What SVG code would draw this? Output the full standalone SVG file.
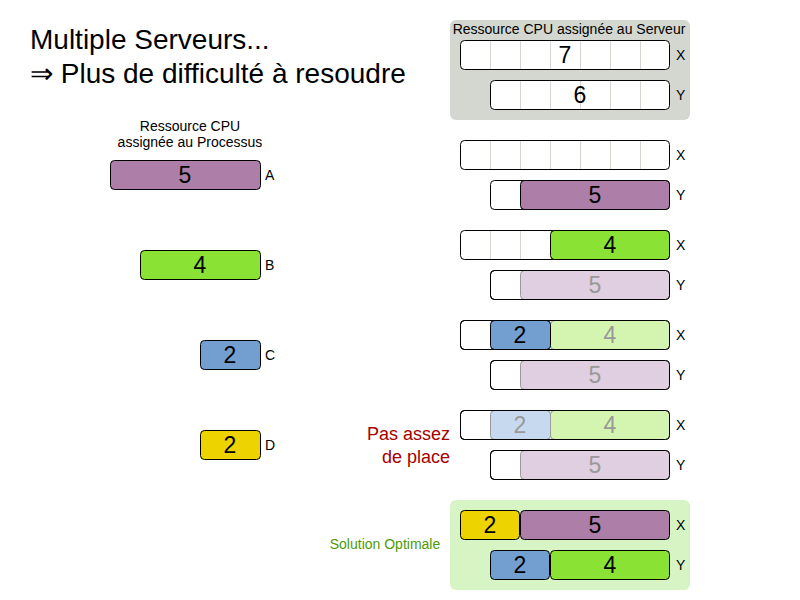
<svg xmlns="http://www.w3.org/2000/svg" width="800" height="600" viewBox="0 0 800 600">
<style>
text{font-family:"Liberation Sans",Arial,sans-serif}
.box{stroke:#000;stroke-width:1;rx:4;ry:4}
.empty{fill:#fff}
.grid{stroke:#d3d7cf;stroke-width:1}
.p{fill:#ad7fa8}.g{fill:#8ae234}.b{fill:#729fcf}.y{fill:#edd400}
.fp{fill:#e0cfe0;stroke:#999}.fg{fill:#d3f5b0;stroke:#999}.fb{fill:#c6d9ee;stroke:#999}
.num{font-size:23px;text-anchor:middle;fill:#000}
.fnum{font-size:23px;text-anchor:middle;fill:#999}
.lbl{font-size:14px;fill:#000}
.small{font-size:14px;text-anchor:middle;fill:#000}
</style>
<rect width="800" height="600" fill="#fff"/>
<g id="title">
<text x="30" y="49" font-size="28">Multiple Serveurs...</text>
<text x="30" y="83" font-size="28">⇒ Plus de difficulté à resoudre</text>
</g>
<g id="processes">
<text x="190" y="131" class="small">Ressource CPU</text>
<text x="190" y="147" class="small">assignée au Processus</text>
<g id="A"><rect class="box p" x="110.5" y="160.5" width="150" height="29"/><text class="num" x="185" y="183">5</text><text class="lbl" x="265" y="180">A</text></g>
<g id="B"><rect class="box g" x="140.5" y="250.5" width="120" height="29"/><text class="num" x="200" y="273">4</text><text class="lbl" x="265" y="270">B</text></g>
<g id="C"><rect class="box b" x="200.5" y="340.5" width="60" height="29"/><text class="num" x="230" y="363">2</text><text class="lbl" x="265" y="360">C</text></g>
<g id="D"><rect class="box y" x="200.5" y="430.5" width="60" height="29"/><text class="num" x="230" y="453">2</text><text class="lbl" x="265" y="450">D</text></g>
</g>
<g id="header">
<rect x="450" y="20" width="240" height="100" rx="6" fill="#d3d7cf"/>
<text x="569" y="34" class="small">Ressource CPU assignée au Serveur</text>
<rect class="box empty" x="460.5" y="40.5" width="209" height="29"/>
<path class="grid" d="M490.5 41v28M520.5 41v28M550.5 41v28M580.5 41v28M610.5 41v28M640.5 41v28"/>
<text class="num" x="565" y="63">7</text><text class="lbl" x="676" y="60">X</text>
<rect class="box empty" x="490.5" y="80.5" width="179" height="29"/>
<path class="grid" d="M520.5 81v28M550.5 81v28M580.5 81v28M610.5 81v28M640.5 81v28"/>
<text class="num" x="580" y="103">6</text><text class="lbl" x="676" y="100">Y</text>
</g>
<g id="step1">
<rect class="box empty" x="460.5" y="140.5" width="209" height="29"/>
<path class="grid" d="M490.5 141v28M520.5 141v28M550.5 141v28M580.5 141v28M610.5 141v28M640.5 141v28"/>
<text class="lbl" x="676" y="160">X</text>
<rect class="box empty" x="490.5" y="180.5" width="179" height="29"/>
<rect class="box p" x="520.5" y="180.5" width="149" height="29"/>
<text class="num" x="595" y="203">5</text><text class="lbl" x="676" y="200">Y</text>
</g>
<g id="step2">
<rect class="box empty" x="460.5" y="230.5" width="209" height="29"/>
<path class="grid" d="M490.5 231v28M520.5 231v28"/>
<rect class="box g" x="550.5" y="230.5" width="119" height="29"/>
<text class="num" x="610" y="253">4</text><text class="lbl" x="676" y="250">X</text>
<rect class="box empty" x="490.5" y="270.5" width="179" height="29"/>
<rect class="box fp" x="520.5" y="270.5" width="149" height="29"/>
<rect x="490.5" y="270.5" width="179" height="29" rx="4" fill="none" stroke="#000"/>
<text class="fnum" x="595" y="293">5</text><text class="lbl" x="676" y="290">Y</text>
</g>
<g id="step3">
<rect class="box empty" x="460.5" y="320.5" width="209" height="29"/>
<rect class="box fg" x="550.5" y="320.5" width="119" height="29"/>
<rect class="box b" x="490.5" y="320.5" width="60" height="29"/>
<rect x="460.5" y="320.5" width="209" height="29" rx="4" fill="none" stroke="#000"/>
<text class="num" x="520" y="343">2</text><text class="fnum" x="610" y="343">4</text><text class="lbl" x="676" y="340">X</text>
<rect class="box empty" x="490.5" y="360.5" width="179" height="29"/>
<rect class="box fp" x="520.5" y="360.5" width="149" height="29"/>
<rect x="490.5" y="360.5" width="179" height="29" rx="4" fill="none" stroke="#000"/>
<text class="fnum" x="595" y="383">5</text><text class="lbl" x="676" y="380">Y</text>
</g>
<g id="step4">
<text x="450" y="440" font-size="18" fill="#a40000" text-anchor="end">Pas assez</text>
<text x="450" y="463" font-size="18" fill="#a40000" text-anchor="end">de place</text>
<rect class="box empty" x="460.5" y="410.5" width="209" height="29"/>
<rect class="box fb" x="490.5" y="410.5" width="60" height="29"/>
<rect class="box fg" x="550.5" y="410.5" width="119" height="29"/>
<rect x="460.5" y="410.5" width="209" height="29" rx="4" fill="none" stroke="#000"/>
<text class="fnum" x="520" y="433">2</text><text class="fnum" x="610" y="433">4</text><text class="lbl" x="676" y="430">X</text>
<rect class="box empty" x="490.5" y="450.5" width="179" height="29"/>
<rect class="box fp" x="520.5" y="450.5" width="149" height="29"/>
<rect x="490.5" y="450.5" width="179" height="29" rx="4" fill="none" stroke="#000"/>
<text class="fnum" x="595" y="473">5</text><text class="lbl" x="676" y="470">Y</text>
</g>
<g id="solution">
<rect x="450" y="500" width="240" height="90" rx="6" fill="#d7f5c4"/>
<text x="385" y="549" font-size="14" fill="#4e9a06" text-anchor="middle">Solution Optimale</text>
<rect class="box y" x="460.5" y="510.5" width="59" height="29"/>
<rect class="box p" x="520.5" y="510.5" width="149" height="29"/>
<text class="num" x="490" y="533">2</text><text class="num" x="595" y="533">5</text><text class="lbl" x="676" y="530">X</text>
<rect class="box b" x="490.5" y="550.5" width="59" height="29"/>
<rect class="box g" x="550.5" y="550.5" width="119" height="29"/>
<text class="num" x="520" y="573">2</text><text class="num" x="610" y="573">4</text><text class="lbl" x="676" y="570">Y</text>
</g>
</svg>
